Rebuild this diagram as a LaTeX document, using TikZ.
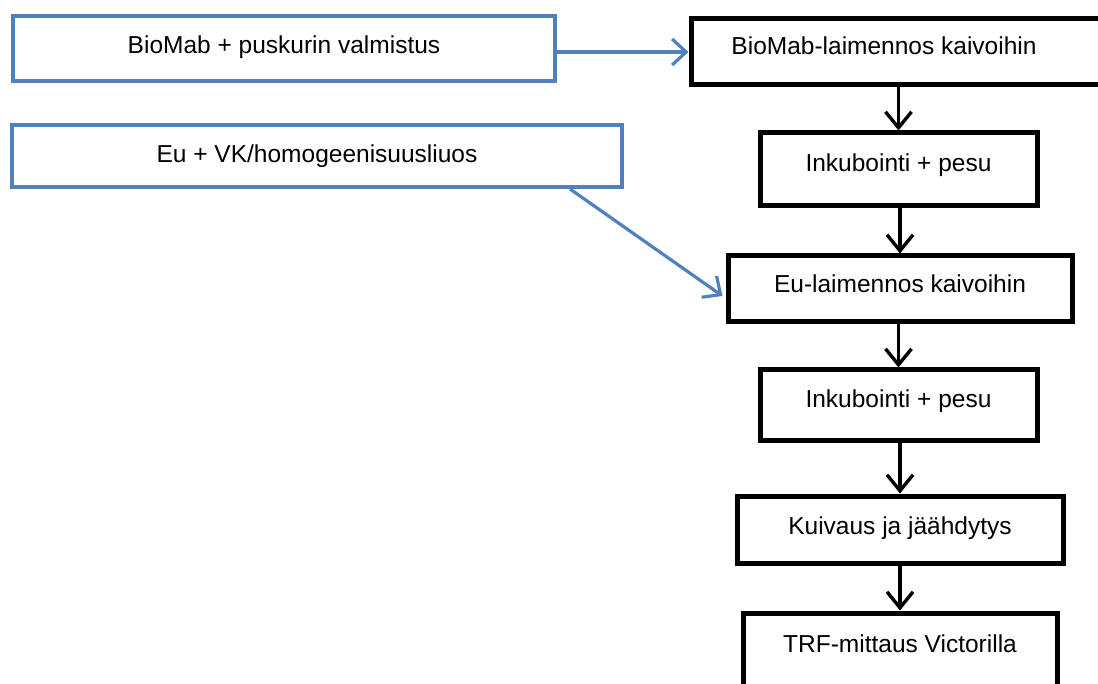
\documentclass[tikz,border=0pt]{standalone}
\usepackage{fontspec}
\setmainfont{Liberation Sans}
\usetikzlibrary{arrows.meta}
\definecolor{offblue}{HTML}{4F81BD}
\tikzset{
  bluebox/.style={draw=offblue, line width=4pt, rectangle, inner sep=0pt},
  blackbox/.style={draw=black, line width=5pt, rectangle, inner sep=0pt},
  txt/.style={font=\fontsize{24.5}{28}\selectfont, anchor=base, inner sep=0pt},
  bluearrow/.style={draw=offblue, line width=3.2pt, -{Straight Barb[length=14pt,width=26pt]}},
  blackarrow/.style={draw=black, line width=3.4pt, -{Straight Barb[length=16pt,width=26pt]}}
}
\begin{document}
\begin{tikzpicture}[x=1pt,y=-1pt]
\useasboundingbox (0,0) rectangle (1098,684);
\clip (0,0) rectangle (1098,684);
% blue boxes
\node[bluebox, minimum width=542pt, minimum height=65pt] (bb1) at (284,48.5) {};
\node[txt] (tbb1) at (284,54) {BioMab + puskurin valmistus};
\node[bluebox, minimum width=610pt, minimum height=62pt] (bb2) at (317,156) {};
\node[txt] (tbb2) at (317,163) {Eu + VK/homogeenisuusliuos};
% black boxes
\node[blackbox, minimum width=414pt, minimum height=66pt] (b1) at (898,52) {};
\node[txt] (tb1) at (884,55) {BioMab-laimennos kaivoihin};
\node[blackbox, minimum width=277pt, minimum height=73pt] (b2) at (898.5,169.5) {};
\node[txt] (tb2) at (898.5,172) {Inkubointi + pesu};
\node[blackbox, minimum width=344pt, minimum height=66pt] (b3) at (900,289) {};
\node[txt] (tb3) at (900,293) {Eu-laimennos kaivoihin};
\node[blackbox, minimum width=277pt, minimum height=71pt] (b4) at (898.5,405.5) {};
\node[txt] (tb4) at (898.5,408) {Inkubointi + pesu};
\node[blackbox, minimum width=326pt, minimum height=67pt] (b5) at (900,529.5) {};
\node[txt] (tb5) at (900,534) {Kuivaus ja jäähdytys};
\node[blackbox, minimum width=314pt, minimum height=76pt] (b6) at (900,651) {};
\node[txt] (tb6) at (900,652) {TRF-mittaus Victorilla};
% connectors
\draw[bluearrow] (bb1.east |- b1.west) -- (b1.west);
\draw[bluearrow] ([xshift=-54pt]bb2.south east) -- ([xshift=-3pt,yshift=-7pt]b3.west);
\draw[blackarrow] (b2.north |- b1.south) -- (b2.north);
\draw[blackarrow] (b3.north |- b2.south) -- (b3.north);
\draw[blackarrow] (b4.north |- b3.south) -- (b4.north);
\draw[blackarrow] (b5.north |- b4.south) -- (b5.north);
\draw[blackarrow] (b6.north |- b5.south) -- (b6.north);
\end{tikzpicture}
\end{document}
